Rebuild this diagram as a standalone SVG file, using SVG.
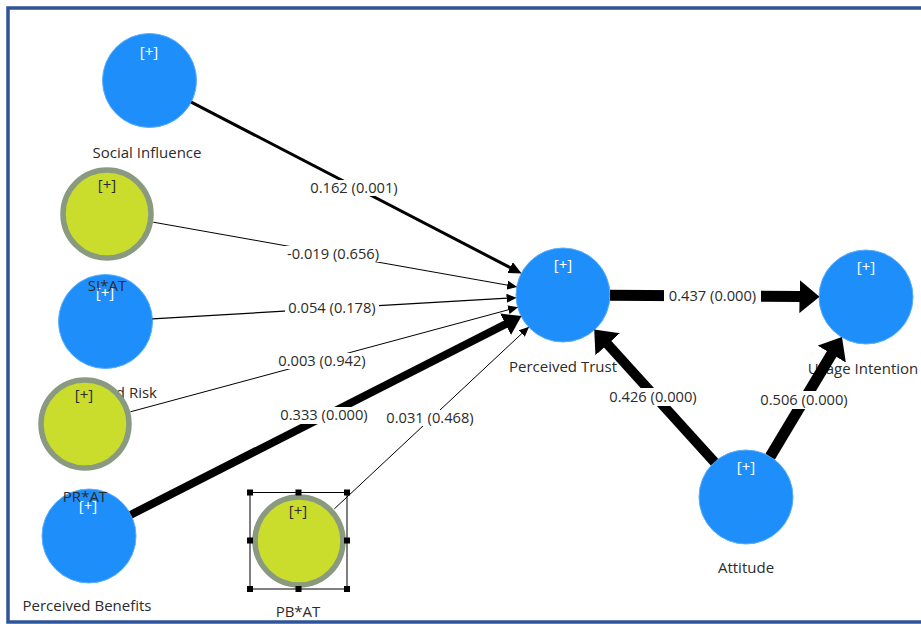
<svg xmlns="http://www.w3.org/2000/svg" width="921" height="624" viewBox="0 0 921 624">
<style>
.bg{fill:#ffffff}
.frame{fill:none;stroke:#2f5597;stroke-width:3.5}
.lv{fill:#1e8ffa;stroke:#5aaefc;stroke-width:1}
.mod{fill:#cadd2c;stroke:#8a9a80;stroke-width:5.5}
.nl{font-family:"Open Sans","Liberation Sans",sans-serif;font-size:15px;fill:#2b2b2b;text-anchor:middle}
.pw{font-family:"Open Sans","Liberation Sans",sans-serif;font-size:15px;fill:#ffffff;text-anchor:middle}
.pd{font-family:"Open Sans","Liberation Sans",sans-serif;font-size:15px;fill:#2b2b2b;text-anchor:middle}
.el{font-family:"Open Sans","Liberation Sans",sans-serif;font-size:14.7px;fill:#2b2b2b;text-anchor:middle}
.lb{fill:#ffffff}
.c{stroke:#000000;fill:none;stroke-linecap:butt}
.sel{fill:none;stroke:#000000;stroke-width:1}
.h{fill:#000000}
</style>
<defs>
<marker id="a1" markerUnits="userSpaceOnUse" markerWidth="10" markerHeight="9" refX="1" refY="4.5" orient="auto" viewBox="0 0 10 9"><path d="M0,0 L10,4.5 L0,9 z" fill="#000"/></marker>
<marker id="a3" markerUnits="userSpaceOnUse" markerWidth="13" markerHeight="12" refX="1" refY="6" orient="auto" viewBox="0 0 13 12"><path d="M0,0 L13,6 L0,12 z" fill="#000"/></marker>
<marker id="a8" markerUnits="userSpaceOnUse" markerWidth="18" markerHeight="24" refX="1" refY="12" orient="auto" viewBox="0 0 18 24"><path d="M0,0 L18,12 L0,24 z" fill="#000"/></marker>
<marker id="a11" markerUnits="userSpaceOnUse" markerWidth="20" markerHeight="33" refX="1" refY="16.5" orient="auto" viewBox="0 0 20 33"><path d="M0,0 L20,16.5 L0,33 z" fill="#000"/></marker>
</defs>
<rect class="bg" x="0" y="0" width="921" height="624"/>
<rect class="frame" x="8" y="8" width="1000" height="614"/>

<g id="node-social-influence">
<circle class="lv" cx="149.5" cy="80.5" r="47"/>
<text class="pw" x="149" y="57">[+]</text>
<text class="nl" x="147" y="158">Social Influence</text>
</g>
<g id="node-perceived-risk">
<circle class="lv" cx="105.5" cy="321.5" r="47"/>
<text class="pw" x="105" y="298">[+]</text>
<text class="nl" x="107" y="398">Perceived Risk</text>
</g>
<g id="node-perceived-benefits">
<circle class="lv" cx="89" cy="536" r="47"/>
<text class="pw" x="88" y="511">[+]</text>
<text class="nl" x="87" y="611">Perceived Benefits</text>
</g>
<g id="node-perceived-trust">
<circle class="lv" cx="563" cy="295" r="47"/>
<text class="pw" x="563" y="270">[+]</text>
<text class="nl" x="563" y="372">Perceived Trust</text>
</g>
<g id="node-usage-intention">
<circle class="lv" cx="866" cy="297" r="47"/>
<text class="pw" x="866" y="272">[+]</text>
<text class="nl" x="863" y="374">Usage Intention</text>
</g>
<g id="node-attitude">
<circle class="lv" cx="746" cy="497" r="47"/>
<text class="pw" x="746" y="472">[+]</text>
<text class="nl" x="746" y="573">Attitude</text>
</g>
<g id="node-si-at">
<circle class="mod" cx="107" cy="214" r="44"/>
<text class="pd" x="107" y="190">[+]</text>
<text class="nl" x="107" y="291">SI*AT</text>
</g>
<g id="node-pr-at">
<circle class="mod" cx="85" cy="424" r="44"/>
<text class="pd" x="84" y="400">[+]</text>
<text class="nl" x="85" y="502">PR*AT</text>
</g>
<g id="node-pb-at">
<circle class="mod" cx="299" cy="541" r="44"/>
<text class="pd" x="298" y="516">[+]</text>
<text class="nl" x="298" y="617">PB*AT</text>
<rect class="sel" x="250" y="492.5" width="97" height="96.5"/>
<rect class="h" x="247" y="489.5" width="6" height="6"/>
<rect class="h" x="295.5" y="489.5" width="6" height="6"/>
<rect class="h" x="344" y="489.5" width="6" height="6"/>
<rect class="h" x="247" y="537.5" width="6" height="6"/>
<rect class="h" x="344" y="537.5" width="6" height="6"/>
<rect class="h" x="247" y="586" width="6" height="6"/>
<rect class="h" x="295.5" y="586" width="6" height="6"/>
<rect class="h" x="344" y="586" width="6" height="6"/>
</g>

<g id="connectors">
<line class="c" x1="191.2" y1="102.1" x2="511" y2="268" stroke-width="3" marker-end="url(#a3)"/>
<line class="c" x1="153.3" y1="222.2" x2="508.3" y2="285.3" stroke-width="1" marker-end="url(#a1)"/>
<line class="c" x1="152.4" y1="318.8" x2="507.6" y2="298.2" stroke-width="1.2" marker-end="url(#a1)"/>
<line class="c" x1="130.4" y1="411.8" x2="509.4" y2="309.5" stroke-width="1" marker-end="url(#a1)"/>
<line class="c" x1="130.9" y1="514.7" x2="506.4" y2="323.8" stroke-width="8" marker-end="url(#a8)"/>
<line class="c" x1="334.3" y1="508.9" x2="522.5" y2="332.9" stroke-width="1" marker-end="url(#a1)"/>
<line class="c" x1="610" y1="295.3" x2="800.5" y2="296.6" stroke-width="11" marker-end="url(#a11)"/>
<line class="c" x1="714.5" y1="462.2" x2="607" y2="343.5" stroke-width="10" marker-end="url(#a11)"/>
<line class="c" x1="770.2" y1="456.7" x2="832.2" y2="353.2" stroke-width="11" marker-end="url(#a11)"/>

<rect class="lb" x="307" y="180" width="94" height="16"/>
<text class="el" x="354" y="193">0.162 (0.001)</text>
<rect class="lb" x="284" y="246" width="99" height="16"/>
<text class="el" x="333" y="259">-0.019 (0.656)</text>
<rect class="lb" x="285" y="300" width="94" height="16"/>
<text class="el" x="332" y="313">0.054 (0.178)</text>
<rect class="lb" x="275" y="353" width="94" height="16"/>
<text class="el" x="322" y="366">0.003 (0.942)</text>
<rect class="lb" x="277" y="407" width="94" height="17"/>
<text class="el" x="324" y="420">0.333 (0.000)</text>
<rect class="lb" x="383" y="410" width="94" height="16"/>
<text class="el" x="430" y="423">0.031 (0.468)</text>
<rect class="lb" x="664" y="287" width="97" height="18"/>
<text class="el" x="712.5" y="301">0.437 (0.000)</text>
<rect class="lb" x="605" y="388" width="96" height="18"/>
<text class="el" x="653" y="402">0.426 (0.000)</text>
<rect class="lb" x="756" y="391" width="96" height="18"/>
<text class="el" x="804" y="405">0.506 (0.000)</text>
</g>
</svg>
